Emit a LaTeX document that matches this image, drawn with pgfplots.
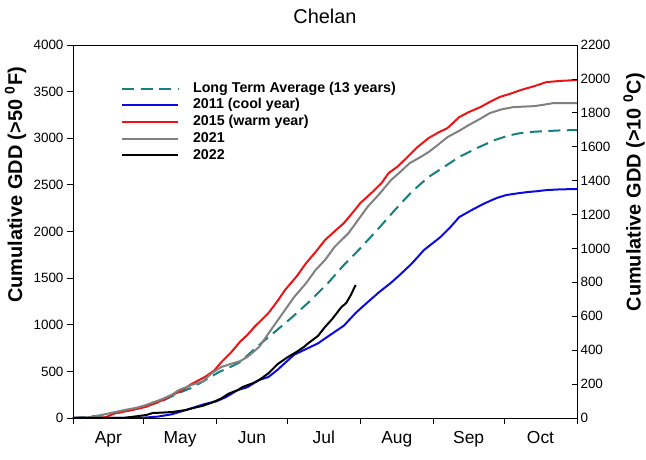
\documentclass[border=0pt]{standalone}
\usepackage{fontspec}
\setmainfont{Liberation Sans}
\usepackage{pgfplots}
\usepackage{pgfplotstable}
\pgfplotsset{compat=1.18}

\definecolor{ltacol}{RGB}{22,128,128}
\definecolor{coolcol}{RGB}{10,10,225}
\definecolor{warmcol}{RGB}{235,20,20}
\definecolor{graycol}{RGB}{128,128,128}

% day = days after 1 April, gdd = cumulative GDD (>50 F)
\pgfplotstableread{
day gdd
0 0
5 10
14 32
21 64
28 107
37 172
45 270
50 320
54 375
62 493
66 536
71 600
78 761
80 804
86 930
93 1080
100 1240
108 1440
115 1640
122 1820
130 2040
137 2240
144 2430
151 2585
158 2700
164 2800
172 2900
179 2980
185 3030
190 3055
196 3070
201 3077
207 3084
214 3088
}\lta

\pgfplotstableread{
day gdd
0 0
28 0
36 15
42 40
48 86
52 118
56 150
61 180
65 225
70 300
74 330
79 407
83 440
87 520
90 590
94 680
99 740
104 800
108 870
115 990
120 1126
125 1240
130 1350
135 1450
139 1540
144 1660
149 1801
153 1880
156 1940
160 2040
164 2155
170 2240
175 2305
180 2360
184 2391
189 2410
193 2423
197 2432
201 2444
207 2452
214 2455
}\cool

\pgfplotstableread{
day gdd
0 0
11 0
14 10
18 54
22 70
27 96
31 120
35 161
39 200
42 247
46 290
50 360
53 400
56 440
60 510
63 600
67 700
71 820
74 890
77 976
80 1050
83 1126
87 1260
90 1372
95 1520
99 1662
103 1780
107 1908
111 2000
115 2090
119 2210
122 2305
127 2420
131 2519
134 2626
138 2700
142 2798
146 2900
151 3002
155 3060
159 3109
164 3227
168 3280
173 3334
177 3390
181 3441
186 3480
190 3516
196 3560
201 3602
207 3615
213 3623
214 3625
}\warm

\pgfplotstableread{
day gdd
0 0
8 10
16 54
22 86
27 110
31 139
38 204
42 250
45 300
51 360
55 390
59 482
63 547
67 580
71 610
74 654
79 761
84 943
87 1050
90 1158
94 1300
99 1447
103 1587
107 1694
111 1833
117 1983
121 2122
125 2262
130 2400
135 2551
139 2640
143 2734
147 2790
151 2852
155 2930
159 3012
164 3080
168 3141
173 3210
177 3270
182 3310
187 3334
192 3340
196 3345
200 3360
204 3377
214 3377
}\yrtwentyone

\pgfplotstableread{
day gdd
0 0
21 0
26 15
31 32
34 54
38 58
42 64
48 86
51 107
55 130
59 165
63 210
66 260
70 300
72 332
76 370
79 407
83 480
87 580
91 650
95 710
98 761
100 804
104 880
107 976
110 1060
114 1190
116 1233
118 1320
120 1426
}\yrtwentytwo

\begin{document}
\begin{tikzpicture}
\begin{axis}[
    scale only axis,
    width=504bp, height=373bp,
    xmin=0, xmax=214, ymin=0, ymax=4000,
    xtick={0,30,61,91,122,153,183,214},
    xticklabels={},
    extra x ticks={15,45.5,76,106.5,137.5,168,198.5},
    extra x tick labels={Apr,May,Jun,Jul,Aug,Sep,Oct},
    extra x tick style={major tick length=0pt,
        xticklabel style={anchor=base, yshift=-25bp, font=\fontsize{17.5}{17.5}\selectfont}},
    ytick={0,500,...,4000},
    xtick pos=bottom, ytick pos=left,
    tick align=outside, major tick length=6bp,
    tick style={black, line width=0.8bp},
    axis line style={line width=0.8bp},
    yticklabel style={font=\fontsize{13.5}{13.5}\selectfont},
    /pgf/number format/assume math mode=true,
    /pgf/number format/1000 sep={},
    title={Chelan},
    title style={at={(0.5,1)}, anchor=base, yshift=16bp, font=\fontsize{20}{20}\selectfont},
    ylabel={Cumulative GDD (>50 \textsuperscript{0}F)},
    ylabel style={at={(axis description cs:-0.114,0.625)}, anchor=center, rotate=0,
        font=\bfseries\fontsize{20}{20}\selectfont},
    legend style={draw=none, fill=none, at={(rel axis cs:0.095,0.902)}, anchor=north west,
        font=\bfseries\fontsize{14.3}{14.3}\selectfont, inner sep=0pt, column sep=14bp,
        row sep=3.2bp, nodes={inner sep=0pt, text height=10.5bp, text depth=3bp}},
    legend cell align=left,
    legend image code/.code={\draw[#1] (0bp,0bp) -- (56bp,0bp);},
    every axis plot/.append style={line width=2bp, line join=round},
]
\addplot[ltacol, dash pattern=on 12bp off 6.5bp] table[x=day, y=gdd] {\lta};
\addlegendentry{Long Term Average (13 years)}
\addplot[coolcol] table[x=day, y=gdd] {\cool};
\addlegendentry{2011 (cool year)}
\addplot[warmcol] table[x=day, y=gdd] {\warm};
\addlegendentry{2015 (warm year)}
\addplot[graycol] table[x=day, y=gdd] {\yrtwentyone};
\addlegendentry{2021}
\addplot[black] table[x=day, y=gdd] {\yrtwentytwo};
\addlegendentry{2022}
\end{axis}
\begin{axis}[
    scale only axis,
    width=504bp, height=373bp,
    xmin=0, xmax=214, ymin=0, ymax=2200,
    axis y line*=right, axis x line=none,
    ytick={0,200,...,2200},
    tick align=inside, major tick length=5bp,
    tick style={black, line width=0.8bp},
    axis line style={line width=0.8bp},
    yticklabel style={font=\fontsize{13.5}{13.5}\selectfont},
    /pgf/number format/assume math mode=true,
    /pgf/number format/1000 sep={},
    ylabel={Cumulative GDD (>10 \textsuperscript{0}C)},
    ylabel style={at={(axis description cs:1.113,0.605)}, anchor=center,
        font=\bfseries\fontsize{20}{20}\selectfont},
]
\end{axis}
\pgfresetboundingbox
\path (current axis.south west) ++(-73bp,-42bp) rectangle ++(646bp,460bp);
\end{tikzpicture}
\end{document}
